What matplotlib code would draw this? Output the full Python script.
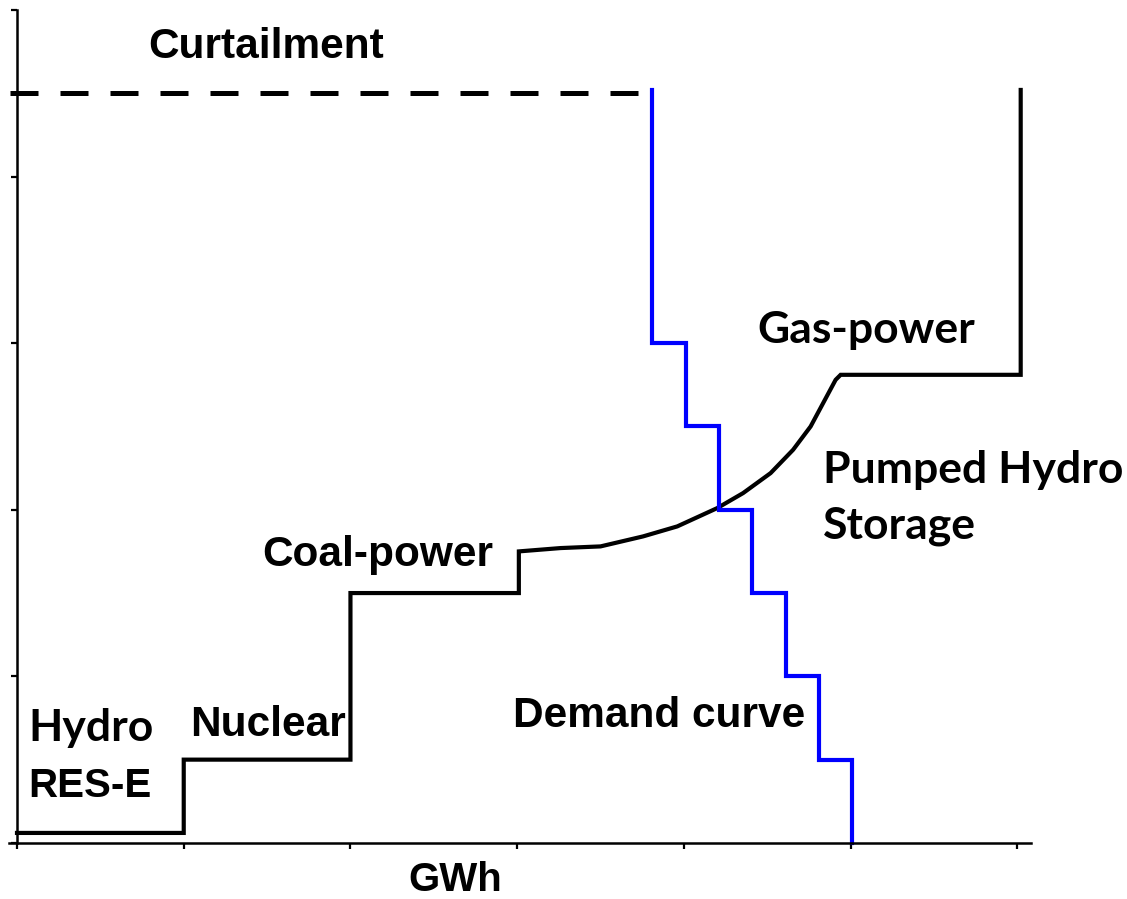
import matplotlib
matplotlib.use("Agg")
import matplotlib.pyplot as plt

# Supply curve (merit order)
supply_x = [0, 1, 1, 2, 2, 3.01, 3.01, 3.26, 3.50, 3.755, 3.96, 4.20, 4.355, 4.52,
            4.655, 4.76, 4.835, 4.91, 4.94, 6.02, 6.02]
supply_y = [0.06, 0.06, 0.5, 0.5, 1.5, 1.5, 1.75, 1.77, 1.78, 1.84, 1.90, 2.01, 2.10, 2.22,
            2.36, 2.50, 2.64, 2.78, 2.81, 2.81, 4.52]

# Demand curve (stepped)
demand_x = [3.81, 3.81, 4.01, 4.01, 4.21, 4.21, 4.41, 4.41, 4.61, 4.61, 4.81, 4.81, 5.01, 5.01]
demand_y = [4.52, 3.0, 3.0, 2.5, 2.5, 2.0, 2.0, 1.5, 1.5, 1.0, 1.0, 0.5, 0.5, 0.0]

# Curtailment line
curt_x = [-0.04, 3.74]
curt_y = [4.5, 4.5]

labels = [
    ("Curtailment", 0.786, 4.78, "arial"),
    ("Gas-power", 4.44, 3.08, "calibri"),
    ("Pumped Hydro", 4.835, 2.24, "calibri"),
    ("Storage", 4.835, 1.90, "calibri"),
    ("Coal-power", 1.47, 1.73, "arial"),
    ("Hydro", 0.066, 0.69, "calibri"),
    ("RES-E", 0.066, 0.34, "arial"),
    ("Nuclear", 1.04, 0.71, "arial"),
    ("Demand curve", 2.975, 0.76, "arial"),
]
xlabel = "GWh"

fig = plt.figure(figsize=(11.27, 8.99), dpi=100)
ax = fig.add_axes([0.00621, 0.0531, 0.9113, 0.9358])
ax.set_xlim(-0.06, 6.1)
ax.set_ylim(-0.05, 5.0)

ax.plot(supply_x, supply_y, color="black", lw=3.0, solid_joinstyle="miter")
ax.plot(demand_x, demand_y, color="#0000ff", lw=3.0, solid_joinstyle="miter")
ax.plot(curt_x, curt_y, color="black", lw=3.6, dashes=(5.6, 4.4))

for s in ["top", "right"]:
    ax.spines[s].set_visible(False)
ax.spines["left"].set_position(("data", 0))
ax.spines["bottom"].set_position(("data", 0))
ax.spines["left"].set_bounds(0, 5)
ax.spines["bottom"].set_bounds(-0.05, 6.08)
for s in ["left", "bottom"]:
    ax.spines[s].set_linewidth(1.8)
ax.set_xticks(range(0, 7))
ax.set_yticks(range(0, 6))
ax.set_xticklabels([])
ax.set_yticklabels([])
ax.tick_params(axis="both", direction="out", length=4.5, width=1.6, color="black")

fam = {"arial": "Liberation Sans", "calibri": "Lato"}
sizes = {"arial": 30.5, "calibri": 32}
for txt, x, y, f in labels:
    fs = sizes[f]
    if txt == "RES-E":
        fs = 29
    ax.text(x, y, txt, ha="left", va="center", fontsize=fs,
            fontweight="bold", family=fam[f], color="black")
ax.text(2.35, -0.225, xlabel, ha="left", va="center", fontsize=29,
        fontweight="bold", family="Liberation Sans", color="black", clip_on=False)

fig.savefig("out.png", dpi=100)
